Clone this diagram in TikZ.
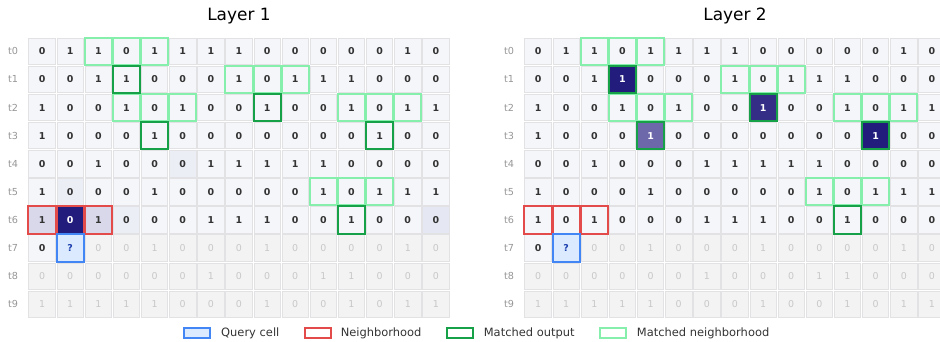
\documentclass[tikz,border=0pt]{standalone}
\usepackage{fontspec}
\setmainfont{DejaVu Sans}
\usetikzlibrary{positioning}

\definecolor{cellbg}{RGB}{245,246,250}
\definecolor{celledge}{RGB}{226,226,229}
\definecolor{celltxt}{RGB}{51,51,51}
\definecolor{fadebg}{RGB}{243,243,243}
\definecolor{fadetxt}{RGB}{200,200,200}
\definecolor{rowgray}{RGB}{150,150,150}
\definecolor{tintA}{RGB}{236,238,246}
\definecolor{tintB}{RGB}{229,231,242}
\definecolor{attnlo}{RGB}{216,216,234}
\definecolor{attnmid}{RGB}{108,104,170}
\definecolor{attnhi}{RGB}{34,28,124}
\definecolor{qborder}{RGB}{66,133,244}
\definecolor{qfill}{RGB}{219,234,254}
\definecolor{qtext}{RGB}{30,64,175}
\definecolor{nbred}{RGB}{226,75,74}
\definecolor{outgreen}{RGB}{22,160,72}
\definecolor{nbgreen}{RGB}{134,239,172}

% hodnoty buniek t0..t9
\def\gridvals{{0,1,1,0,1,1,1,1,0,0,0,0,0,1,0},
{0,0,1,1,0,0,0,1,0,1,1,1,0,0,0},
{1,0,0,1,0,1,0,0,1,0,0,1,0,1,1},
{1,0,0,0,1,0,0,0,0,0,0,0,1,0,0},
{0,0,1,0,0,0,1,1,1,1,1,0,0,0,0},
{1,0,0,0,1,0,0,0,0,0,1,0,1,1,1},
{1,0,1,0,0,0,1,1,1,0,0,1,0,0,0},
{0,?,0,0,1,0,0,0,1,0,0,0,0,1,0},
{0,0,0,0,0,0,1,0,0,0,1,1,0,0,0},
{1,1,1,1,1,0,0,0,1,0,0,1,0,1,1}}

\begin{document}
\begin{tikzpicture}[
    x=1bp, y=-1bp,
    cell/.style={draw=celledge, line width=0.8bp, fill=cellbg, text=celltxt,
        minimum size=26.4bp, inner sep=0pt, font=\fontsize{9.5}{10}\selectfont\bfseries},
    fade1/.style={fill=fadebg, text=fadetxt, font=\fontsize{9.5}{10}\selectfont},
    rowlab/.style={text=rowgray, font=\fontsize{9.7}{10}\selectfont},
    title/.style={font=\fontsize{17}{20}\selectfont, anchor=base},
    box/.style={line width=2bp},
    query/.style={box, draw=qborder},
    nbhd/.style={box, draw=nbred},
    matchout/.style={box, draw=outgreen},
    matchnb/.style={box, draw=nbgreen},
    legpatch/.style={box, minimum width=26bp, minimum height=10bp, inner sep=0pt, fill=white},
    legtext/.style={text=celltxt, font=\fontsize{11.5}{12}\selectfont, inner sep=0pt},
    % farby pozornosti
    a-4-5/.style={fill=tintA},
    a-5-1/.style={fill=tintA},
    a-6-3/.style={fill=tintA},
    a-6-14/.style={fill=tintB},
    a-6-0/.style={fill=attnlo},
    a-6-2/.style={fill=attnlo},
    a-6-1/.style={fill=attnhi, text=white},
    b-1-3/.style={fill=attnhi, text=white},
    b-2-8/.style={fill=attnhi!92!white, text=white},
    b-3-12/.style={fill=attnhi, text=white},
    b-3-4/.style={fill=attnmid, text=white},
    a-7-1/.style={fill=qfill, text=qtext},
    b-7-1/.style={fill=qfill, text=qtext}
]
\useasboundingbox (0,0) rectangle (940,341);

% mriežky
\foreach \L/\xo/\lab in {a/28/Layer 1, b/524/Layer 2} {
  \node[title] (\L-title) at (\xo+211,20) {\lab};
  \foreach \vals [count=\ro from 0] in \gridvals {
    \node[rowlab] (\L-t\ro) at (\xo-15,51.35+28.1*\ro) {t\ro};
    \foreach \v [count=\co from 0] in \vals {
      \pgfmathtruncatemacro\fade{(\ro>7)||((\ro==7)&&(\co>1))}
      \node[cell, fade\fade/.try, \L-\ro-\co/.try] (\L-\ro-\co)
        at (\xo+14.07+28.13*\co,51.35+28.1*\ro) {\v};
    }
  }
}

% zvýraznenia
\foreach \L in {a,b} {
  \foreach \rc in {0-2,0-3,0-4,2-3,2-4,2-5,1-7,1-8,1-9,2-11,2-12,2-13,5-10,5-11,5-12}
    \draw[matchnb] (\L-\rc.south west) rectangle (\L-\rc.north east);
  \foreach \rc in {1-3,3-4,2-8,3-12,6-11}
    \draw[matchout] (\L-\rc.south west) rectangle (\L-\rc.north east);
  \foreach \rc in {6-0,6-1,6-2}
    \draw[nbhd] (\L-\rc.south west) rectangle (\L-\rc.north east);
  \draw[query] (\L-7-1.south west) rectangle (\L-7-1.north east);
}

% legenda
\node[legpatch, draw=qborder, fill=qfill] (lq) at (197,333) {};
\node[legtext, right=10bp of lq] (lqt) {Query cell};
\node[legpatch, draw=nbred, right=24bp of lqt] (ln) {};
\node[legtext, right=9bp of ln] (lnt) {Neighborhood};
\node[legpatch, draw=outgreen, right=24bp of lnt] (lo) {};
\node[legtext, right=10bp of lo] (lot) {Matched output};
\node[legpatch, draw=nbgreen, right=24bp of lot] (lm) {};
\node[legtext, right=10bp of lm] (lmt) {Matched neighborhood};

\end{tikzpicture}
\end{document}
